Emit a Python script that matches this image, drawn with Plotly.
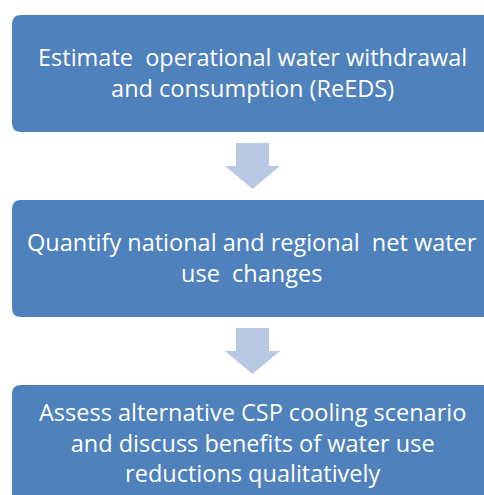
import plotly.graph_objects as go

steps = [
    ["Estimate  operational water withdrawal", "and consumption (ReEDS)"],
    ["Quantify national and regional  net water", "use  changes"],
    ["Assess alternative CSP cooling scenario", "and discuss benefits of water use", "reductions qualitatively"],
]

W, H = 484, 495
box_left, box_right = 12, 500
box_tops = [15, 200, 385]
box_h = 117
radius = 9
box_color = "#4F81BD"
arrow_color = "#B9C9E3"
arrow_cx = 252.5
stem_half, head_half = 16.5, 27.5
text_cx = 252
FONT = "Open Sans, Carlito, Calibri, sans-serif"
FSIZE = 23.5

def rrect(x0, y0, x1, y1, r):
    return (f"M{x0+r},{y0} L{x1-r},{y0} Q{x1},{y0} {x1},{y0+r} "
            f"L{x1},{y1-r} Q{x1},{y1} {x1-r},{y1} L{x0+r},{y1} "
            f"Q{x0},{y1} {x0},{y1-r} L{x0},{y0+r} Q{x0},{y0} {x0+r},{y0} Z")

fig = go.Figure()
shapes = []
annotations = []
for i, lines in enumerate(steps):
    top = box_tops[i]
    bottom = top + box_h
    shapes.append(dict(type="path", path=rrect(box_left, top, box_right, bottom, radius),
                       fillcolor=box_color, line=dict(width=0), xref="x", yref="y", layer="below"))
    cy = top + 57.5
    annotations.append(dict(x=text_cx, y=cy, xref="x", yref="y", text="<br>".join(lines),
                            showarrow=False, xanchor="center", yanchor="middle", align="center",
                            font=dict(family=FONT, size=FSIZE, color="white")))
    if i < len(steps) - 1:
        s0 = bottom + 11
        h0 = bottom + 34
        tip = bottom + 57
        xs = [arrow_cx - stem_half, arrow_cx + stem_half, arrow_cx + stem_half, arrow_cx + head_half,
              arrow_cx, arrow_cx - head_half, arrow_cx - stem_half, arrow_cx - stem_half]
        ys = [s0, s0, h0, h0, tip, h0, h0, s0]
        fig.add_trace(go.Scatter(x=xs, y=ys, fill="toself", fillcolor=arrow_color,
                                 line=dict(width=0), mode="lines", hoverinfo="skip", showlegend=False))

fig.update_layout(
    width=W, height=H, margin=dict(l=0, r=0, t=0, b=0),
    paper_bgcolor="white", plot_bgcolor="white",
    xaxis=dict(range=[0, W], visible=False, fixedrange=True),
    yaxis=dict(range=[H, 0], visible=False, fixedrange=True),
    shapes=shapes, annotations=annotations, showlegend=False,
)
fig.write_html("out.html", config={"displayModeBar": False},
               post_script="document.body.style.margin='0';document.body.style.overflow='hidden';")
